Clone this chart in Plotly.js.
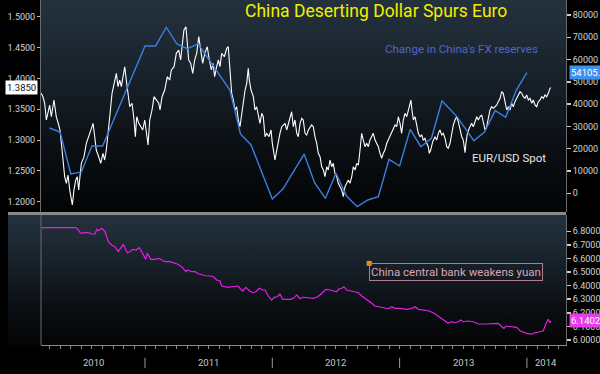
<!DOCTYPE html>
<html><head><meta charset="utf-8">
<script src="https://cdn.plot.ly/plotly-3.0.1.min.js"></script>
<style>
html,body{margin:0;padding:0;background:#000;overflow:hidden;}
#wrap{position:relative;width:600px;height:374px;}
.bg{position:absolute;background:linear-gradient(to bottom,#24323d 0%,#18222b 35%,#0b0f13 70%,#030405 100%);}
#bg1{left:41px;top:0px;width:525px;height:212px;}
#bg2{left:8px;top:215px;width:558px;height:130px;}
#chart{position:absolute;left:0;top:0;width:600px;height:374px;}
</style>
</head><body><div id="wrap"><div class="bg" id="bg1"></div><div class="bg" id="bg2"></div><div id="chart"></div></div>
<script>
// ---- DATA (x in decimal years) ----
const eurusdSpot = [
[2010.185,1.3758],[2010.199,1.3698],[2010.212,1.3596],[2010.225,1.3325],[2010.251,1.3568],[2010.264,1.3378],[2010.285,1.3649],[2010.303,1.3378],[2010.322,1.3244],[2010.332,1.3163],
[2010.343,1.2947],[2010.356,1.2622],[2010.369,1.2405],[2010.382,1.2298],[2010.395,1.2433],[2010.409,1.2189],[2010.421,1.2027],[2010.429,1.1946],[2010.442,1.2189],[2010.456,1.2352],
[2010.468,1.2405],[2010.479,1.2189],[2010.489,1.2405],[2010.500,1.2622],[2010.521,1.2730],[2010.539,1.2947],[2010.566,1.3109],[2010.592,1.3271],[2010.605,1.3054],[2010.617,1.2838],
[2010.636,1.2730],[2010.652,1.2622],[2010.670,1.2785],[2010.683,1.2676],[2010.696,1.2838],[2010.709,1.3054],[2010.723,1.3378],[2010.741,1.3758],[2010.756,1.3920],[2010.775,1.4082],
[2010.788,1.3865],[2010.801,1.3973],[2010.814,1.3865],[2010.827,1.4027],[2010.841,1.4189],[2010.853,1.3973],[2010.866,1.3758],[2010.880,1.3540],[2010.898,1.3596],[2010.914,1.3325],
[2010.924,1.3054],[2010.935,1.3378],[2010.951,1.3271],[2010.966,1.3216],[2010.982,1.3163],[2010.998,1.3325],[2011.013,1.3109],[2011.024,1.2919],[2011.037,1.3325],[2011.055,1.3487],
[2011.071,1.3703],[2011.089,1.3649],[2011.108,1.3596],[2011.118,1.3487],[2011.134,1.3703],[2011.155,1.3811],[2011.175,1.4027],[2011.194,1.3973],[2011.207,1.4136],[2011.228,1.4189],
[2011.246,1.4406],[2011.265,1.4460],[2011.280,1.4298],[2011.291,1.4513],[2011.306,1.4784],[2011.322,1.4838],[2011.332,1.4569],[2011.343,1.4298],[2011.359,1.4244],[2011.375,1.4082],
[2011.390,1.4298],[2011.406,1.4406],[2011.422,1.4676],[2011.438,1.4460],[2011.453,1.4244],[2011.469,1.4406],[2011.489,1.4513],[2011.505,1.4298],[2011.521,1.4136],[2011.534,1.4244],
[2011.547,1.4027],[2011.563,1.4189],[2011.576,1.4298],[2011.589,1.4189],[2011.602,1.4406],[2011.623,1.4351],[2011.642,1.4488],[2011.654,1.4513],[2011.660,1.4351],[2011.668,1.4136],
[2011.681,1.3758],[2011.694,1.3649],[2011.707,1.3487],[2011.720,1.3540],[2011.733,1.3325],[2011.746,1.3216],[2011.760,1.3433],[2011.772,1.3649],[2011.786,1.3811],[2011.799,1.3920],
[2011.811,1.4163],[2011.819,1.3973],[2011.833,1.3811],[2011.851,1.3703],[2011.864,1.3487],[2011.877,1.3540],[2011.890,1.3378],[2011.903,1.3271],[2011.917,1.3433],[2011.929,1.3378],
[2011.943,1.3054],[2011.956,1.3109],[2011.974,1.3054],[2011.990,1.3163],[2012.000,1.2947],[2012.011,1.2785],[2012.021,1.2676],[2012.035,1.2838],[2012.047,1.3000],[2012.060,1.3109],
[2012.074,1.3216],[2012.086,1.3244],[2012.100,1.3271],[2012.113,1.3163],[2012.126,1.3271],[2012.139,1.3378],[2012.152,1.3459],[2012.165,1.3216],[2012.178,1.3325],[2012.192,1.3109],
[2012.204,1.3054],[2012.218,1.3271],[2012.231,1.3352],[2012.243,1.3325],[2012.257,1.3109],[2012.270,1.3081],[2012.283,1.3163],[2012.309,1.3244],[2012.322,1.3216],[2012.335,1.3054],
[2012.349,1.2947],[2012.361,1.2785],[2012.375,1.2730],[2012.388,1.2567],[2012.401,1.2514],[2012.414,1.2405],[2012.427,1.2567],[2012.440,1.2514],[2012.453,1.2676],[2012.467,1.2567],
[2012.479,1.2622],[2012.492,1.2460],[2012.506,1.2405],[2012.518,1.2298],[2012.532,1.2243],[2012.545,1.2189],[2012.558,1.2081],[2012.571,1.2243],[2012.584,1.2298],[2012.597,1.2352],
[2012.610,1.2298],[2012.624,1.2405],[2012.636,1.2567],[2012.650,1.2514],[2012.663,1.2622],[2012.676,1.2595],[2012.689,1.2838],[2012.702,1.3109],[2012.715,1.3000],[2012.728,1.2892],
[2012.741,1.2947],[2012.754,1.2892],[2012.767,1.3000],[2012.781,1.3054],[2012.793,1.3109],[2012.807,1.3000],[2012.820,1.2947],[2012.833,1.2892],[2012.846,1.2785],[2012.859,1.2704],
[2012.872,1.2785],[2012.885,1.2838],[2012.899,1.2947],[2012.911,1.3000],[2012.925,1.3054],[2012.950,1.3163],[2012.964,1.3244],[2012.977,1.3216],[2012.990,1.3378],[2013.003,1.3271],
[2013.016,1.3109],[2013.029,1.3325],[2013.042,1.3433],[2013.056,1.3378],[2013.068,1.3487],[2013.082,1.3622],[2013.089,1.3649],[2013.097,1.3487],[2013.108,1.3325],[2013.121,1.3378],
[2013.134,1.3216],[2013.147,1.3109],[2013.160,1.3054],[2013.174,1.3081],[2013.186,1.3000],[2013.199,1.3028],[2013.213,1.2947],[2013.225,1.2892],[2013.233,1.2785],[2013.244,1.2838],
[2013.260,1.2973],[2013.278,1.3054],[2013.291,1.3000],[2013.304,1.3109],[2013.317,1.3163],[2013.331,1.3081],[2013.343,1.3109],[2013.357,1.3028],[2013.370,1.2892],[2013.382,1.2866],
[2013.396,1.2947],[2013.409,1.3109],[2013.422,1.3244],[2013.435,1.3325],[2013.448,1.3378],[2013.461,1.3297],[2013.474,1.3163],[2013.488,1.3054],[2013.500,1.3000],[2013.514,1.2794],
[2013.521,1.2947],[2013.532,1.3109],[2013.547,1.3190],[2013.566,1.3271],[2013.579,1.3216],[2013.592,1.3297],[2013.606,1.3378],[2013.618,1.3325],[2013.631,1.3378],[2013.645,1.3406],
[2013.657,1.3271],[2013.671,1.3163],[2013.684,1.3216],[2013.697,1.3378],[2013.710,1.3487],[2013.723,1.3540],[2013.736,1.3514],[2013.749,1.3540],[2013.763,1.3568],[2013.775,1.3622],
[2013.789,1.3677],[2013.802,1.3784],[2013.814,1.3758],[2013.828,1.3622],[2013.841,1.3487],[2013.854,1.3540],[2013.867,1.3487],[2013.880,1.3596],[2013.893,1.3540],[2013.906,1.3622],
[2013.920,1.3677],[2013.932,1.3730],[2013.946,1.3784],[2013.959,1.3758],[2013.972,1.3703],[2013.985,1.3677],[2013.998,1.3730],[2014.011,1.3649],[2014.024,1.3677],[2014.038,1.3596],
[2014.050,1.3649],[2014.063,1.3568],[2014.077,1.3540],[2014.089,1.3622],[2014.103,1.3649],[2014.116,1.3703],[2014.129,1.3677],[2014.142,1.3730],[2014.155,1.3703],[2014.168,1.3758],
[2014.181,1.3839],[2014.189,1.3850]
];
const fxReserveChange = [
[2010.250,29300],[2010.333,27500],[2010.417,8660],[2010.500,9560],[2010.583,21200],[2010.667,21200],
[2011.000,66100],[2011.083,66100],[2011.167,74500],[2011.250,67000],[2011.333,64900],[2011.417,67000],
[2011.667,46300],[2011.750,26600],[2011.833,21700],[2012.000,-2560],[2012.083,1930],[2012.250,17600],
[2012.333,4620],[2012.417,-2240],[2012.500,8970],[2012.583,-1210],[2012.667,-6010],[2012.750,-3010],
[2012.833,-1530],[2012.917,15250],[2013.000,12250],[2013.083,28700],[2013.167,20900],[2013.250,24700],
[2013.333,41500],[2013.450,34400],[2013.583,23600],[2013.667,27500],[2013.750,37100],[2013.833,34100],
[2013.917,46300],[2014.000,54105]
];
const usdcny = [
[2010.185,6.8275],[2010.458,6.8275],[2010.476,6.8096],[2010.495,6.7853],[2010.529,6.7897],[2010.555,6.7897],[2010.581,6.7801],[2010.607,6.7801],[2010.621,6.8147],[2010.633,6.8044],
[2010.660,6.8221],[2010.686,6.7971],[2010.699,6.7602],[2010.712,6.7234],[2010.738,6.6991],[2010.764,6.6866],[2010.790,6.6498],[2010.809,6.6748],[2010.830,6.7043],[2010.843,6.6748],
[2010.861,6.6424],[2010.882,6.6498],[2010.903,6.6675],[2010.929,6.6623],[2010.955,6.6792],[2010.974,6.6498],[2010.992,6.6130],[2011.005,6.5938],[2011.018,6.6380],[2011.034,6.6130],
[2011.045,6.5938],[2011.079,6.5938],[2011.112,6.6012],[2011.139,6.5835],[2011.157,6.5761],[2011.196,6.5761],[2011.222,6.5688],[2011.254,6.5592],[2011.288,6.5393],[2011.306,6.5150],
[2011.322,6.5025],[2011.332,6.5150],[2011.367,6.5025],[2011.393,6.5025],[2011.419,6.4856],[2011.432,6.4856],[2011.471,6.4730],[2011.511,6.4708],[2011.537,6.4657],[2011.563,6.4414],
[2011.589,6.4362],[2011.602,6.3972],[2011.628,6.3920],[2011.654,6.3876],[2011.681,6.3920],[2011.707,6.3920],[2011.733,6.3972],[2011.746,6.3803],[2011.767,6.3604],[2011.793,6.3876],
[2011.819,6.3626],[2011.846,6.3479],[2011.872,6.3552],[2011.898,6.3803],[2011.925,6.3678],[2011.943,6.3678],[2011.969,6.3236],[2011.995,6.2941],[2012.013,6.3140],[2012.039,6.3184],
[2012.060,6.3383],[2012.082,6.2993],[2012.113,6.2993],[2012.144,6.2993],[2012.165,6.3066],[2012.192,6.3309],[2012.218,6.3037],[2012.243,6.3140],[2012.283,6.3110],[2012.322,6.3066],
[2012.349,6.3140],[2012.375,6.3309],[2012.401,6.3552],[2012.422,6.3729],[2012.453,6.3678],[2012.479,6.3626],[2012.506,6.3552],[2012.518,6.3729],[2012.545,6.3803],[2012.563,6.3920],
[2012.584,6.3678],[2012.610,6.3626],[2012.650,6.3552],[2012.676,6.3479],[2012.702,6.3236],[2012.728,6.3066],[2012.754,6.2941],[2012.781,6.2698],[2012.807,6.2499],[2012.833,6.2448],
[2012.859,6.2404],[2012.885,6.2300],[2012.911,6.2300],[2012.938,6.2448],[2012.964,6.2330],[2013.003,6.2330],[2013.056,6.2256],[2013.095,6.2330],[2013.121,6.2448],[2013.147,6.2256],
[2013.186,6.2205],[2013.225,6.2153],[2013.265,6.2006],[2013.304,6.1763],[2013.331,6.1594],[2013.357,6.1395],[2013.382,6.1225],[2013.409,6.1343],[2013.435,6.1270],[2013.461,6.1343],
[2013.480,6.1468],[2013.500,6.1343],[2013.540,6.1395],[2013.579,6.1343],[2013.618,6.1174],[2013.671,6.1174],[2013.723,6.1225],[2013.775,6.1225],[2013.802,6.0975],[2013.820,6.0857],
[2013.836,6.1027],[2013.867,6.0975],[2013.920,6.0931],[2013.946,6.0680],[2013.998,6.0489],[2014.038,6.0437],[2014.063,6.0533],[2014.103,6.0607],[2014.129,6.0680],[2014.150,6.1225],
[2014.168,6.1520],[2014.181,6.1270],[2014.189,6.1402]
];
const leftTicks = [1.20,1.25,1.30,1.35,1.40,1.45,1.50];
const reserveTicks = [0,10000,20000,30000,40000,50000,60000,70000,80000];
const cnyTicks = [6.0,6.1,6.2,6.3,6.4,6.5,6.6,6.7,6.8];
const yearLabels = ['2010','2011','2012','2013','2014'];
const yearBoundaries = [2011,2012,2013,2014];
const lastEur = 1.3850, lastReserve = 54105.0, lastCny = 6.1402;
const annotEvent = {text:'China central bank weakens yuan', x:2012.761, y:6.564};

// ---- PLOT ----
const xRange = [2010.183, 2014.307];
const FONT = 'Roboto, "Liberation Sans", sans-serif';
const monthTicks = [];
for (let y = 2010; y <= 2014; y++) for (let m = 0; m < 12; m++) {
  const t = y + m/12; if (t > xRange[0] && t < xRange[1]) monthTicks.push(t);
}
const col = a => a.map(p => p[0]);
const val = a => a.map(p => p[1]);

const traces = [
  {x: col(fxReserveChange), y: val(fxReserveChange), xaxis:'x', yaxis:'y2', mode:'lines',
   line:{color:'#3b7fe0', width:1.4}, hoverinfo:'skip'},
  {x: col(eurusdSpot), y: val(eurusdSpot), xaxis:'x', yaxis:'y', mode:'lines',
   line:{color:'#ffffff', width:1.1}, hoverinfo:'skip'},
  {x: col(usdcny), y: val(usdcny), xaxis:'x', yaxis:'y3', mode:'lines',
   line:{color:'#e81ce8', width:1.2}, hoverinfo:'skip'}
];

const tickFont = {family: FONT, size: 9, color: '#d4d4d4'};
const yTop = [0.3855, 1], yBot = [0, 0.3768];
const yearCenters = [ (xRange[0]+2011)/2, 2011.5, 2012.5, 2013.5, (2014+xRange[1])/2 ];

const annotations = [];
yearLabels.forEach((lab,i) => annotations.push({text:lab, x:yearCenters[i], xref:'x', y:-0.052, yref:'paper',
  showarrow:false, font:{family:FONT, size:9.5, color:'#c8c8c8'}, xanchor:'center', yanchor:'middle'}));
annotations.push({text:"Change in China's FX reserves", x:0.8, xref:'paper', y:0.858, yref:'paper', showarrow:false,
  font:{family:FONT, size:11.5, color:'#5464c8'}, xanchor:'center', yanchor:'middle'});
annotations.push({text:'EUR/USD Spot', x:0.891, xref:'paper', y:0.542, yref:'paper', showarrow:false,
  font:{family:FONT, size:11.5, color:'#e6e6e6'}, xanchor:'center', yanchor:'middle'});
annotations.push({text:annotEvent.text, x:annotEvent.x, xref:'x', y:annotEvent.y, yref:'y3', showarrow:false,
  xanchor:'left', yanchor:'top', bordercolor:'#b47c8c', borderwidth:1, borderpad:1,
  font:{family:FONT, size:11.5, color:'#dca4b6'}});
annotations.push({text:lastEur.toFixed(4), x:0, xref:'paper', y:lastEur, yref:'y', showarrow:false, xanchor:'right', xshift:-3,
  bgcolor:'#ffffff', font:{family:FONT, size:9.5, color:'#111'}, borderpad:1});
annotations.push({text:lastReserve.toFixed(1), x:1, xref:'paper', y:lastReserve, yref:'y2', showarrow:false, xanchor:'left', xshift:3,
  bgcolor:'#3f90ee', font:{family:FONT, size:9.5, color:'#ffffff'}, borderpad:1});
annotations.push({text:lastCny.toFixed(4), x:1, xref:'paper', y:lastCny, yref:'y3', showarrow:false, xanchor:'left', xshift:3,
  bgcolor:'#e83ce8', font:{family:FONT, size:9.5, color:'#ffffff'}, borderpad:1});

const shapes = [];
yearBoundaries.forEach(b => shapes.push({type:'line', xref:'x', yref:'paper', x0:b, x1:b, y0:-0.037, y1:-0.067,
  line:{color:'#9a9a9a', width:1}}));
// separator between panels
shapes.push({type:'rect', xref:'paper', yref:'paper', x0:-0.0629, x1:1, y0:0.3768, y1:0.3855,
  fillcolor:'#8a8a8a', line:{width:0}});
// left border of lower panel
shapes.push({type:'line', xref:'paper', yref:'paper', x0:0, x1:0, y0:0, y1:0.3768, line:{color:'#6a6a6a', width:1}});
// event marker
shapes.push({type:'rect', xref:'x', yref:'y3', xsizemode:'pixel', ysizemode:'pixel',
  xanchor:annotEvent.x, yanchor:annotEvent.y, x0:-2.5, x1:2.5, y0:-2.5, y1:2.5, fillcolor:'#f0900c', line:{width:0}});

const layout = {
  width:600, height:374, margin:{l:41, r:34, t:0, b:29},
  paper_bgcolor:'rgba(0,0,0,0)', plot_bgcolor:'rgba(0,0,0,0)',
  showlegend:false,
  title:{text:'China Deserting Dollar Spurs Euro', x:0.627, xanchor:'center', xref:'container',
    y:0.970, yanchor:'middle', yref:'container', font:{family:FONT, size:17.5, color:'#f2ee00'}},
  xaxis:{domain:[0,1], range:xRange, anchor:'y3', showgrid:false, zeroline:false, showline:true,
    linecolor:'#8c8c8c', linewidth:1, ticks:'outside', ticklen:3, tickcolor:'#8c8c8c',
    tickvals:monthTicks, showticklabels:false, fixedrange:true},
  yaxis:{domain:yTop, range:[1.1833,1.5271], tickvals:leftTicks, tickformat:'.4f', ticks:'outside', ticklen:3,
    tickcolor:'#bbbbbb', tickfont:tickFont, showgrid:false, zeroline:false, showline:true, linecolor:'#6a6a6a'},
  yaxis2:{overlaying:'y', side:'right', anchor:'x', range:[-8390,86720], tickvals:reserveTicks, tickformat:'d',
    ticks:'outside', ticklen:4, tickwidth:1.5, tickcolor:'#cccccc', tickfont:tickFont, showgrid:false, zeroline:false,
    showline:true, linecolor:'#6a6a6a'},
  yaxis3:{domain:yBot, range:[5.963,6.920], side:'right', anchor:'x', tickvals:cnyTicks, tickformat:'.4f',
    ticks:'outside', ticklen:4, tickwidth:1.5, tickcolor:'#cccccc', tickfont:tickFont, showgrid:false, zeroline:false,
    showline:true, linecolor:'#6a6a6a'},
  annotations:annotations, shapes:shapes
};
Plotly.newPlot('chart', traces, layout, {staticPlot:true, displayModeBar:false});
</script></body></html>
